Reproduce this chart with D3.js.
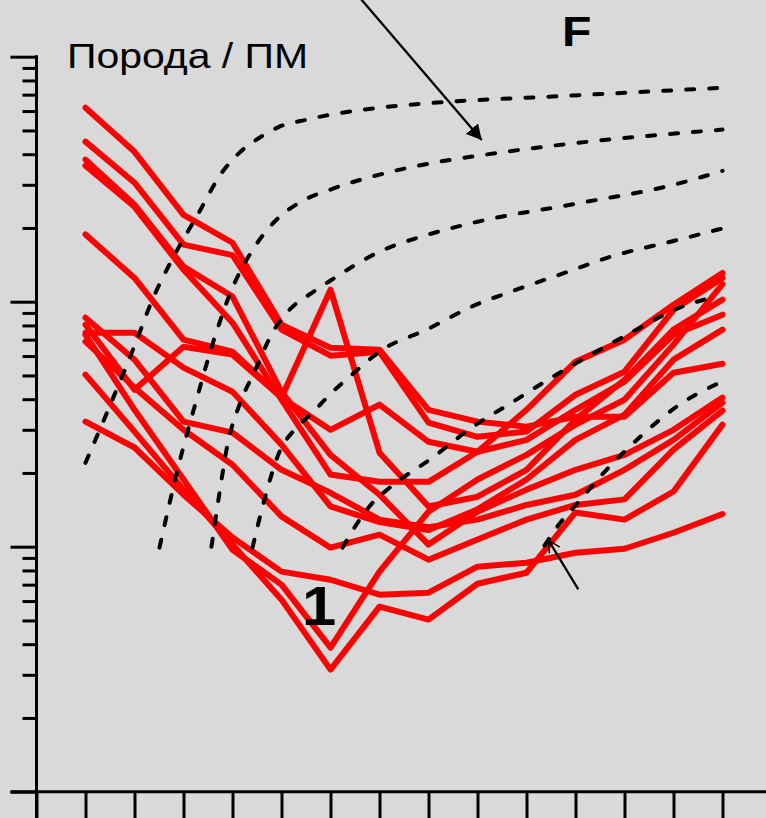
<!DOCTYPE html>
<html>
<head>
<meta charset="utf-8">
<script src="https://cdn.jsdelivr.net/npm/d3@7"></script>
<style>
  html, body { margin: 0; padding: 0; background: #d9d9d9; }
  svg { display: block; }
</style>
</head>
<body>
<svg id="chart" width="766" height="818"></svg>
<script>
// Element order along the horizontal axis (positions 1..14)
const elements = ["La","Ce","Pr","Nd","Sm","Eu","Gd","Tb","Dy","Ho","Er","Tm","Yb","Lu"];

// Rock / primitive-mantle normalised values, one array per sample
const sample01 = [619, 409, 226, 174, 80.6, 64.9, 63.7, 36.2, 32.4, 30.9, 33.9, 33.9, 51.3, 55.8];
const sample02 = [450, 306, 171, 155, 76.9, 60.2, 62.5, 32.1, 28.1, 29.5, 41.7, 51.8, 92.7, 125];
const sample03 = [380, 249, 139, 105, 42.9, 23.7, 16.3, 10.2, 13.9, 17.1, 20.6, 23.7, 30.0, 40.6];
const sample04 = [359, 244, 135, 82.1, 39.8, 19.7, 18.4, 18.4, 24.4, 36.2, 56.9, 70.0, 97.2, 131];
const sample05 = [188, 125, 70.0, 62.5, 40.6, 112, 24.2, 14.6, 16.0, 20.6, 33.0, 48.0, 76.9, 102];
const sample06 = [86.0, 58.0, 32.4, 29.2, 20.6, 16.6, 12.9, 12.0, 12.9, 14.8, 16.3, 20.6, 27.3, 38.7];
const sample07 = [80.6, 43.7, 65.5, 60.8, 40.6, 30.0, 38.0, 26.8, 24.4, 27.3, 36.2, 47.2, 73.3, 88.5];
const sample08 = [74.7, 74.7, 53.8, 42.9, 26.1, 14.6, 12.6, 11.7, 14.2, 18.8, 27.3, 34.6, 58.0, 76.9];
const sample09 = [68.7, 44.6, 30.0, 21.6, 13.3, 9.91, 11.2, 8.85, 10.7, 12.9, 14.8, 15.6, 24.9, 35.9];
const sample10 = [50.4, 29.5, 17.1, 10.2, 6.08, 3.15, 5.69, 5.04, 7.06, 7.83, 13.8, 12.9, 16.8, 31.5];
const sample11 = [32.4, 25.4, 16.3, 10.9, 7.91, 7.33, 6.37, 6.49, 8.29, 8.60, 9.45, 9.81, 11.4, 13.6];
const sample12 = [73.3, 36.2, 18.8, 9.72, 7.00, 3.87, 7.91, 13.9, 18.8, 23.7, 31.5, 39.8, 66.8, 118];
const samples = [sample01, sample02, sample03, sample04, sample05, sample06,
                 sample07, sample08, sample09, sample10, sample11, sample12];

// Model melting curves: [axis position, normalised value]
const meltCurve1 = [[1.0,22.0],[1.49,37.3],[2.0,66.1],[2.367,102],[2.816,155],[3.265,222],[3.796,339],[4.143,406],[4.551,467],[4.959,518],[5.51,553],[6.0,580],[7.0,619],[8.429,655],[10.469,687],[14.0,747]];
const meltCurve2 = [[2.51,9.91],[2.878,20.6],[3.265,39.8],[3.673,75.4],[4.0,114],[4.388,160],[4.857,212],[5.367,254],[6.0,287],[7.0,330],[8.0,366],[9.0,394],[10.531,433],[14.0,504]];
const meltCurve3 = [[3.571,10.0],[3.735,16.6],[3.898,26.1],[4.143,38.0],[4.449,51.8],[4.816,74.7],[5.163,92.7],[5.571,107],[6.0,122],[7.0,160],[8.0,188],[9.0,212],[11.0,251],[13.0,300],[14.0,342]];
const meltCurve4 = [[4.408,9.91],[4.653,15.6],[4.959,24.4],[5.265,30.0],[5.633,35.2],[5.98,41.7],[6.388,49.4],[7.061,63.7],[7.959,76.9],[8.878,95.4],[9.796,112],[10.776,131],[11.735,153],[13.0,177],[14.0,199]];
const meltCurve5 = [[6.245,9.91],[6.551,12.5],[6.857,15.1],[7.204,17.4],[8.082,23.1],[8.878,30.6],[9.694,38.7],[10.51,49.0],[11.388,61.9],[12.245,76.9],[13.122,94.5],[13.857,105]];
const meltCurve6 = [[10.367,10.1],[10.673,12.4],[10.98,14.6],[11.633,20.6],[12.347,28.4],[13.122,38.0],[13.939,46.7]];
const meltCurves = [meltCurve1, meltCurve2, meltCurve3, meltCurve4, meltCurve5, meltCurve6];

// Axis ticks
const majorTicks = [1, 10, 100, 1000];
const minorTicks = [2,3,4,5,6,7,8,9,20,30,40,50,60,70,80,90,200,300,400,500,600,700,800,900];
const positionTicks = d3.range(0, 15);

// Annotation arrows: [[tail position, tail value], [tip position, tip value]]
const arrowMelt = [[6.392, 1945], [9.086, 457]];
const arrowSample = [[11.057, 6.70], [10.445, 10.65]];

const W = 766, H = 818;
const svg = d3.select("#chart");

svg.append("rect").attr("width", W).attr("height", H).attr("fill", "#d9d9d9");

const x = d3.scaleLinear().domain([0, 14]).range([36.5, 722.5]);
const y = d3.scaleLog().domain([1, 1000]).range([791.7, 56.7]);

// Arrow head definitions
const defs = svg.append("defs");
defs.append("marker")
  .attr("id", "headSolid")
  .attr("markerUnits", "userSpaceOnUse")
  .attr("viewBox", "0 0 15 16")
  .attr("refX", 15).attr("refY", 8)
  .attr("markerWidth", 15).attr("markerHeight", 16)
  .attr("orient", "auto")
  .append("path").attr("d", "M0,0L15,8L0,16Z").attr("fill", "#000");
defs.append("marker")
  .attr("id", "headOpen")
  .attr("markerUnits", "userSpaceOnUse")
  .attr("viewBox", "-1 -1 14 14")
  .attr("refX", 12).attr("refY", 6)
  .attr("markerWidth", 14).attr("markerHeight", 14)
  .attr("orient", "auto")
  .append("path").attr("d", "M0,0L12,6L0,12")
  .attr("fill", "none").attr("stroke", "#000").attr("stroke-width", 1.4);

// Sample patterns
const sampleLine = d3.line()
  .x((d, i) => x(i + 1))
  .y(d => y(d));

svg.append("g").attr("class", "samples")
  .selectAll("path").data(samples).join("path")
  .attr("d", sampleLine)
  .attr("fill", "none")
  .attr("stroke", "#ff0000")
  .attr("stroke-width", 6)
  .attr("stroke-linejoin", "round")
  .attr("stroke-linecap", "round");

// Melting curves
const meltLine = d3.line()
  .x(d => x(d[0]))
  .y(d => y(d[1]))
  .curve(d3.curveMonotoneX);

svg.append("g").attr("class", "melt")
  .selectAll("path").data(meltCurves).join("path")
  .attr("d", meltLine)
  .attr("fill", "none")
  .attr("stroke", "#000")
  .attr("stroke-width", 4)
  .attr("stroke-linecap", "round")
  .attr("stroke-dasharray", "8,15");

// Axes
const axisG = svg.append("g").attr("class", "axes");

axisG.append("g")
  .attr("transform", `translate(${x(0)},0)`)
  .call(d3.axisLeft(y).tickValues(majorTicks).tickSize(26).tickFormat(""));
axisG.append("g")
  .attr("transform", `translate(${x(0)},0)`)
  .call(d3.axisLeft(y).tickValues(minorTicks).tickSize(14).tickFormat(""));
axisG.append("g")
  .attr("transform", `translate(0,${y(1)})`)
  .call(d3.axisBottom(x).tickValues(positionTicks).tickSize(30).tickFormat(""));

axisG.selectAll(".domain").remove();
axisG.selectAll("line").attr("stroke", "#000").attr("stroke-width", 3);

// Axis lines
axisG.append("line")
  .attr("x1", x(0)).attr("x2", x(0))
  .attr("y1", y(1000) - 1.5).attr("y2", H)
  .attr("stroke", "#000").attr("stroke-width", 3);
axisG.append("line")
  .attr("x1", x(0) - 26).attr("x2", W)
  .attr("y1", y(1)).attr("y2", y(1))
  .attr("stroke", "#000").attr("stroke-width", 3);

// Arrows
const arrows = svg.append("g").attr("class", "arrows");
arrows.append("line")
  .attr("x1", x(arrowMelt[0][0])).attr("y1", y(arrowMelt[0][1]))
  .attr("x2", x(arrowMelt[1][0])).attr("y2", y(arrowMelt[1][1]))
  .attr("stroke", "#000").attr("stroke-width", 2.3)
  .attr("marker-end", "url(#headSolid)");
arrows.append("line")
  .attr("x1", x(arrowSample[0][0])).attr("y1", y(arrowSample[0][1]))
  .attr("x2", x(arrowSample[1][0])).attr("y2", y(arrowSample[1][1]))
  .attr("stroke", "#000").attr("stroke-width", 2.3)
  .attr("marker-end", "url(#headOpen)");

// Labels
const labels = svg.append("g").attr("class", "labels")
  .attr("font-family", "'Liberation Sans', Arial, sans-serif")
  .attr("fill", "#000");
labels.append("text")
  .attr("transform", "translate(67,68) scale(1.17,1)")
  .attr("font-size", 35)
  .text("Порода / ПМ");
labels.append("text")
  .attr("transform", "translate(562,46) scale(1.12,1)")
  .attr("font-size", 43)
  .attr("font-weight", "bold")
  .text("F");
labels.append("text")
  .attr("transform", "translate(302,625) scale(1.1,1)")
  .attr("font-size", 56)
  .attr("font-weight", "bold")
  .text("1");
</script>
</body>
</html>
